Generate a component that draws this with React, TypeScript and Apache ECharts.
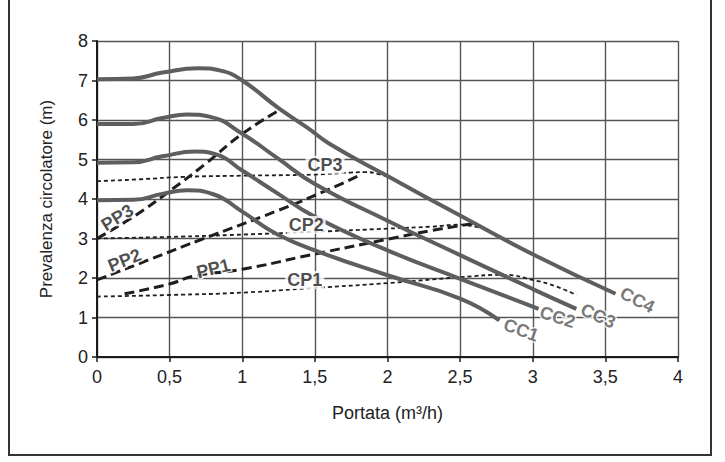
import React, { useEffect, useRef } from "react";
import * as echarts from "echarts";

// Pump curves (CC = circolatore curves)
const cc1X = [0, 0.25, 0.45, 0.62, 0.8, 1.0, 1.24, 1.56, 2.0, 2.5, 2.77];
const cc1Y = [3.97, 3.98, 4.13, 4.22, 4.12, 3.68, 3.11, 2.62, 2.07, 1.48, 0.93];
const cc2X = [0, 0.25, 0.45, 0.68, 0.82, 1.0, 1.24, 1.5, 2.0, 2.5, 3.04];
const cc2Y = [4.92, 4.93, 5.08, 5.2, 5.13, 4.72, 4.15, 3.55, 2.7, 1.98, 1.22];
const cc3X = [0, 0.25, 0.45, 0.62, 0.78, 1.0, 1.24, 1.5, 2.0, 2.5, 3.0, 3.3];
const cc3Y = [5.9, 5.9, 6.05, 6.14, 6.08, 5.65, 5.04, 4.38, 3.45, 2.58, 1.72, 1.22];
const cc4X = [0, 0.25, 0.45, 0.7, 0.85, 1.0, 1.25, 1.45, 1.6, 2.0, 2.5, 3.0, 3.57];
const cc4Y = [7.03, 7.05, 7.2, 7.31, 7.25, 7.0, 6.3, 5.8, 5.4, 4.58, 3.58, 2.6, 1.6];

// PP curves (dashed)
const pp1X = [0.19, 0.5, 0.67, 1.0, 1.49, 2.0, 2.3, 2.6];
const pp1Y = [1.6, 1.85, 2.05, 2.22, 2.6, 2.98, 3.2, 3.38];
const pp2X = [0, 0.35, 0.7, 1.24, 1.6, 1.82];
const pp2Y = [1.95, 2.45, 2.95, 3.7, 4.25, 4.62];
const pp3X = [0, 0.25, 0.5, 0.75, 1.0, 1.27];
const pp3Y = [3.0, 3.55, 4.2, 4.9, 5.65, 6.28];

// CP curves (dotted)
const cp1X = [0, 0.5, 1.0, 1.5, 2.0, 2.5, 2.8, 3.0, 3.15, 3.3];
const cp1Y = [1.53, 1.57, 1.63, 1.75, 1.87, 2.02, 2.08, 1.95, 1.8, 1.57];
const cp2X = [0, 0.5, 1.0, 1.5, 2.0, 2.3, 2.5, 2.6, 2.65];
const cp2Y = [3.0, 3.04, 3.1, 3.17, 3.25, 3.3, 3.35, 3.3, 3.26];
const cp3X = [0, 0.3, 0.6, 1.0, 1.5, 1.75, 1.85, 1.95, 2.02];
const cp3Y = [4.45, 4.5, 4.56, 4.59, 4.62, 4.67, 4.68, 4.62, 4.54];

// Curve labels
const ccLabelNames = ["CC1", "CC2", "CC3", "CC4"];
const ccLabelX = [2.92, 3.17, 3.45, 3.72];
const ccLabelY = [0.68, 1.01, 1.04, 1.44];
const ccLabelRotate = [-20, -18, -24, -27];

const ppLabelNames = ["PP1", "PP2", "PP3"];
const ppLabelX = [0.8, 0.19, 0.14];
const ppLabelY = [2.24, 2.45, 3.53];
const ppLabelRotate = [14, 22, 32];

const cpLabelNames = ["CP1", "CP2", "CP3"];
const cpLabelX = [1.43, 1.44, 1.57];
const cpLabelY = [1.95, 3.34, 4.87];

const xMin = 0, xMax = 4, xStep = 0.5;
const yMin = 0, yMax = 8, yStep = 1;

const FONT = "'Liberation Sans', Arial, Helvetica, sans-serif";

function zip(xs: number[], ys: number[]) {
  return xs.map((x, i) => [x, ys[i]]);
}

export default function App() {
  const ref = useRef<HTMLDivElement>(null);
  useEffect(() => {
    if (!ref.current) return;
    const chart = echarts.init(ref.current, undefined, { renderer: "svg" });

    const ccStyle = { color: "#5e5e5e", width: 4, type: "solid" as const };
    const ppStyle = { color: "#1e1e1e", width: 3, type: [10, 5] as any };
    const cpStyle = { color: "#1e1e1e", width: 1.8, type: [4, 3] as any };

    const lineSeries = (name: string, xs: number[], ys: number[], ls: any, smooth = 0.5) => ({
      type: "line",
      name,
      data: zip(xs, ys),
      smooth,
      showSymbol: false,
      symbol: "none",
      lineStyle: ls,
      z: 3,
      silent: true,
    });

    const labelSeries = (
      names: string[],
      xs: number[],
      ys: number[],
      rot: number[] | null,
      color: string,
      bg: boolean
    ) => ({
      type: "scatter",
      symbolSize: 0,
      z: 10,
      silent: true,
      data: names.map((n, i) => ({
        name: n,
        value: [xs[i], ys[i]],
        label: { rotate: rot ? rot[i] : 0 },
      })),
      label: {
        show: true,
        position: "inside",
        formatter: "{b}",
        fontFamily: FONT,
        fontSize: 18,
        fontWeight: "bold",
        color,
        textBorderColor: "#fff",
        textBorderWidth: bg ? 0 : 3,
        backgroundColor: bg ? "#fff" : "transparent",
        padding: bg ? [0, 2, 0, 2] : 0,
        lineHeight: 18,
      },
    });

    chart.setOption({
      animation: false,
      backgroundColor: "#fff",
      grid: { left: 97, right: 47, top: 41, bottom: 105, containLabel: false },
      xAxis: {
        type: "value",
        min: xMin,
        max: xMax,
        interval: xStep,
        name: "Portata (m³/h)",
        nameLocation: "middle",
        nameGap: 47,
        nameTextStyle: { fontFamily: FONT, fontSize: 18, color: "#222" },
        axisLine: { show: true, onZero: false, lineStyle: { color: "#1a1a1a", width: 2 } },
        axisTick: { show: true, length: 5, lineStyle: { color: "#1a1a1a", width: 1.5 } },
        axisLabel: {
          fontFamily: FONT,
          fontSize: 18,
          color: "#222",
          margin: 11,
          formatter: (v: number) => String(v).replace(".", ","),
        },
        splitLine: { show: true, lineStyle: { color: "#555", width: 1.4 } },
      },
      yAxis: {
        type: "value",
        min: yMin,
        max: yMax,
        interval: yStep,
        name: "Prevalenza circolatore (m)",
        nameLocation: "middle",
        nameRotate: 90,
        nameGap: 42,
        nameTextStyle: { fontFamily: FONT, fontSize: 17, color: "#222" },
        axisLine: { show: true, onZero: false, lineStyle: { color: "#1a1a1a", width: 2 } },
        axisTick: { show: true, length: 5, lineStyle: { color: "#1a1a1a", width: 1.5 } },
        axisLabel: { fontFamily: FONT, fontSize: 18, color: "#222", margin: 9 },
        splitLine: { show: true, lineStyle: { color: "#555", width: 1.4 } },
      },
      graphic: [
        {
          type: "rect",
          shape: { x: 9, y: -10, width: 702, height: 465 },
          style: { fill: "none", stroke: "#333", lineWidth: 2 },
          silent: true,
          z: 0,
        },
      ],
      series: [
        lineSeries("CP1", cp1X, cp1Y, cpStyle),
        lineSeries("CP2", cp2X, cp2Y, cpStyle),
        lineSeries("CP3", cp3X, cp3Y, cpStyle),
        lineSeries("PP1", pp1X, pp1Y, ppStyle),
        lineSeries("PP2", pp2X, pp2Y, ppStyle),
        lineSeries("PP3", pp3X, pp3Y, ppStyle),
        lineSeries("CC1", cc1X, cc1Y, ccStyle),
        lineSeries("CC2", cc2X, cc2Y, ccStyle),
        lineSeries("CC3", cc3X, cc3Y, ccStyle),
        lineSeries("CC4", cc4X, cc4Y, ccStyle),
        labelSeries(ccLabelNames, ccLabelX, ccLabelY, ccLabelRotate, "#555", false),
        labelSeries(ppLabelNames, ppLabelX, ppLabelY, ppLabelRotate, "#1e1e1e", false),
        labelSeries(cpLabelNames, cpLabelX, cpLabelY, null, "#1e1e1e", true),
      ],
    });

    return () => chart.dispose();
  }, []);

  return (
    <div
      ref={ref}
      style={{ position: "fixed", left: 0, top: 0, width: 725, height: 462, background: "#fff" }}
    />
  );
}
